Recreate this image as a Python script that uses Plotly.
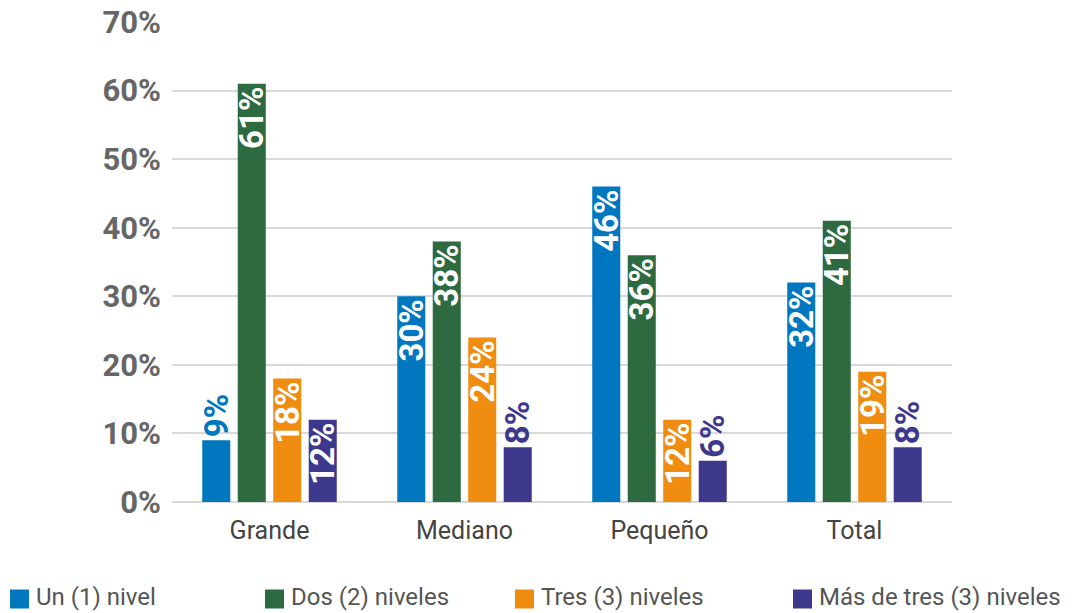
import plotly.graph_objects as go

categories = ["Grande", "Mediano", "Pequeño", "Total"]
series_names = ["Un (1) nivel", "Dos (2) niveles", "Tres (3) niveles", "Más de tres (3) niveles"]
un_nivel = [9, 30, 46, 32]
dos_niveles = [61, 38, 36, 41]
tres_niveles = [18, 24, 12, 19]
mas_de_tres = [12, 8, 6, 8]
y_ticks = [0, 10, 20, 30, 40, 50, 60, 70]

colors = ["#0077BE", "#2D6A3F", "#F08C10", "#3E388C"]
series_values = [un_nivel, dos_niveles, tres_niveles, mas_de_tres]

W, H = 1082, 613
ML, MR, MT, MB = 172, 130, 22, 111
PW, PH = W - ML - MR, H - MT - MB

# values too short to hold their label get it above the bar, in the bar colour
INSIDE_MIN = 12

fig = go.Figure()
for name, vals, col in zip(series_names, series_values, colors):
    pos = ["inside" if v >= INSIDE_MIN else "outside" for v in vals]
    tcol = ["white" if v >= INSIDE_MIN else col for v in vals]
    fig.add_trace(go.Bar(
        name=name,
        x=categories,
        y=vals,
        marker=dict(color=col, line=dict(width=0)),
        text=[f"{v}%" for v in vals],
        textposition=pos,
        textangle=-90,
        insidetextanchor="end",
        constraintext="none",
        cliponaxis=False,
        textfont=dict(family="Roboto", size=33, color=tcol, weight="bold"),
        hoverinfo="skip",
        showlegend=False,
    ))

# single-row legend along the bottom edge: swatch + label per series
legend_left_px = [10, 265, 515, 793]
swatch = 19
row_center_px = 597


def px_x(px):
    return (px - ML) / PW


def px_y(py):
    return (H - MB - py) / PH


for name, col, left in zip(series_names, colors, legend_left_px):
    fig.add_shape(
        type="rect", xref="paper", yref="paper",
        x0=px_x(left), x1=px_x(left + swatch),
        y0=px_y(row_center_px + 2 + swatch / 2), y1=px_y(row_center_px + 2 - swatch / 2),
        fillcolor=col, line=dict(width=0), layer="above",
    )
    fig.add_annotation(
        xref="paper", yref="paper",
        x=px_x(left + swatch + 6), y=px_y(row_center_px),
        xanchor="left", yanchor="middle",
        text=name, showarrow=False, borderpad=0,
        font=dict(family="Roboto", size=24, color="#555555"),
    )

fig.update_layout(
    width=W,
    height=H,
    margin=dict(l=ML, r=MR, t=MT, b=MB, autoexpand=False),
    paper_bgcolor="white",
    plot_bgcolor="white",
    barmode="group",
    bargap=0.272,
    bargroupgap=0.21,
    showlegend=False,
    font=dict(family="Roboto", color="#555555"),
    xaxis=dict(
        showgrid=False,
        showline=False,
        ticks="",
        tickfont=dict(size=25, color="#444444"),
        ticklabelstandoff=11,
    ),
    yaxis=dict(
        range=[0, 70],
        tickvals=y_ticks,
        ticktext=[f"{t}%" for t in y_ticks],
        showgrid=True,
        gridcolor="#D9D9D9",
        gridwidth=1.5,
        zeroline=True,
        zerolinecolor="#D9D9D9",
        zerolinewidth=1.5,
        showline=False,
        ticks="",
        tickfont=dict(size=31, color="#666666", weight="bold"),
        ticklabelstandoff=10,
    ),
)

fig.write_html("out.html")
